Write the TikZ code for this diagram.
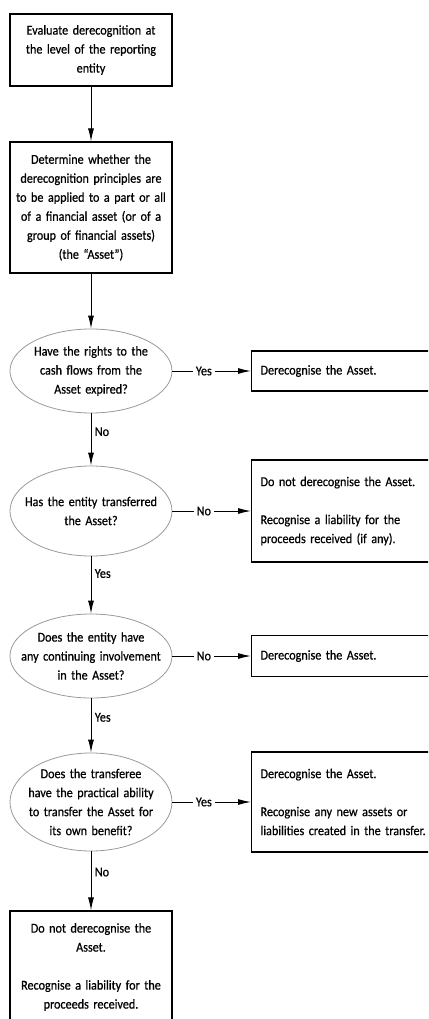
\documentclass[tikz,border=0pt]{standalone}
\usepackage{fontspec}
\setmainfont{Carlito}[FakeStretch=0.9,FakeBold=0.6]
\usetikzlibrary{shapes.geometric,arrows.meta}

\begin{document}
\begin{tikzpicture}[x=1pt,y=-1pt]
\tikzstyle{txt}=[font=\fontsize{13.5}{19}\selectfont]
\tikzstyle{box}=[txt, rectangle, draw, line width=1.1pt, minimum width=162pt, text width=155pt, align=center, inner sep=0pt]
\tikzstyle{decision}=[txt, ellipse, draw=black!40, line width=0.8pt, minimum width=162pt, text width=155pt, align=center, inner xsep=-24pt, inner ysep=-8pt]
\tikzstyle{outcome}=[txt, rectangle, draw, line width=1.1pt, anchor=west, minimum width=190pt, text width=172pt, align=left, inner xsep=9pt, inner ysep=0pt]
\tikzstyle{flow}=[line width=1pt, -{Latex[length=13pt,width=6pt]}]
\tikzstyle{tag}=[txt, fill=white, inner sep=3pt]

\useasboundingbox (0,0) rectangle (428,1019);
\clip (0,0) rectangle (428,1019);

\node[box, minimum height=72pt] (S1) at (91,50) {Evaluate derecognition at\\ the level of the reporting\\ entity};
\node[box, minimum height=131pt] (S2) at (91,207.5) {Determine whether the\\ derecognition principles are\\ to be applied to a part or all\\ of a financial asset (or of a\\ group of financial assets)\\ (the “Asset”)};

\node[decision, minimum height=84pt] (Q1) at (91,371) {Have the rights to the\\ cash flows from the\\ Asset expired?};
\node[decision, minimum height=90pt] (Q2) at (91,511) {Has the entity transferred\\ the Asset?};
\node[decision, minimum height=84pt] (Q3) at (91,656) {Does the entity have\\ any continuing involvement\\ in the Asset?};
\node[decision, minimum height=98pt] (Q4) at (91,802) {Does the transferee\\ have the practical ability\\ to transfer the Asset for\\ its own benefit?};

\node[outcome, minimum height=40pt] (R1) at (251,371) {Derecognise the Asset.};
\node[outcome, minimum height=102pt] (R2) at (251,511) {Do not derecognise the Asset.\\[19pt] Recognise a liability for the\\ proceeds received (if any).};
\node[outcome, minimum height=41pt] (R3) at (251,656) {Derecognise the Asset.};
\node[outcome, minimum height=100pt] (R4) at (251,802) {Derecognise the Asset.\\[19pt] Recognise any new assets or\\ liabilities created in the transfer.};

\node[box, minimum height=112pt] (E) at (91,967) {Do not derecognise the\\ Asset.\\[19pt] Recognise a liability for the\\ proceeds received.};

\draw[flow] (S1) -- (S2);
\draw[flow] (S2) -- (Q1);
\draw[flow] (Q1) -- node[txt, right, pos=0.35] {No} (Q2);
\draw[flow] (Q2) -- node[txt, right, pos=0.3] {Yes} (Q3);
\draw[flow] (Q3) -- node[txt, right, pos=0.35] {Yes} (Q4);
\draw[flow] (Q4) -- node[txt, right, pos=0.35] {No} (E);

\draw[flow] (Q1) -- node[tag, pos=0.4] {Yes} (R1);
\draw[flow] (Q2) -- node[tag, pos=0.4] {No} (R2);
\draw[flow] (Q3) -- node[tag, pos=0.4] {No} (R3);
\draw[flow] (Q4) -- node[tag, pos=0.4] {Yes} (R4);

\end{tikzpicture}
\end{document}
